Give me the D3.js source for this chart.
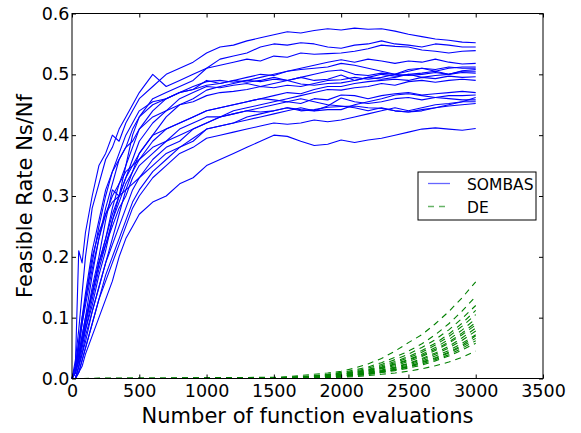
<!DOCTYPE html>
<html>
<head>
<meta charset="utf-8">
<script src="https://cdn.jsdelivr.net/npm/d3@7"></script>
<style>
  body { margin: 0; background: #fff; }
  svg { font-family: "DejaVu Sans", sans-serif; }
</style>
</head>
<body>
<div id="chart"></div>
<script>
// Feasible rate vs evaluations, SOMBAS runs against DE runs

const xTicks = [0, 500, 1000, 1500, 2000, 2500, 3000, 3500];
const yTicks = [0.0, 0.1, 0.2, 0.3, 0.4, 0.5, 0.6];
const seriesNames = ["SOMBAS", "DE"];

// evaluation counts shared by the SOMBAS runs
const sombasEvals = [0, 25, 50, 75, 100, 150, 200, 250, 300, 350, 400, 450, 500,
    600, 700, 800, 900, 1000, 1100, 1200, 1300, 1400, 1500, 1600, 1700, 1800, 1900,
    2000, 2100, 2200, 2300, 2400, 2500, 2600, 2700, 2800, 2900, 3000];

const sombasRuns = [
    [0, .02, .21, .19, .24, .30, .35, .37, .40, .39, .42, .44, .46, .48, .50, .51, .52, .535, .545, .548, .555, .56, .565, .57, .568, .572, .575, .573, .576, .574, .575, .571, .566, .562, .558, .556, .553, .552],
    [0, .03, .08, .14, .20, .28, .32, .36, .38, .41, .43, .45, .47, .50, .48, .49, .50, .51, .525, .53, .535, .545, .55, .548, .552, .55, .545, .543, .548, .55, .555, .55, .548, .545, .55, .548, .545, .545],
    [0, .01, .04, .07, .10, .17, .23, .28, .32, .36, .38, .41, .43, .46, .47, .48, .49, .51, .515, .52, .525, .522, .53, .528, .535, .533, .534, .535, .538, .542, .548, .546, .545, .54, .538, .535, .538, .539],
    [0, .02, .05, .09, .13, .19, .25, .30, .34, .37, .40, .42, .44, .455, .46, .47, .475, .49, .485, .49, .495, .50, .498, .505, .51, .515, .52, .524, .52, .525, .522, .518, .522, .52, .525, .52, .517, .518],
    [0, .01, .03, .06, .09, .15, .20, .26, .31, .30, .35, .40, .43, .45, .46, .47, .48, .488, .49, .487, .49, .495, .50, .505, .508, .51, .512, .518, .515, .51, .505, .50, .508, .51, .505, .51, .512, .512],
    [0, .01, .04, .07, .10, .14, .19, .23, .28, .32, .35, .38, .41, .44, .46, .47, .475, .482, .485, .49, .487, .49, .495, .49, .495, .50, .505, .507, .50, .498, .502, .50, .505, .51, .508, .512, .51, .51],
    [0, .00, .02, .05, .08, .12, .17, .21, .26, .30, .33, .36, .39, .42, .44, .46, .47, .48, .478, .482, .485, .48, .485, .49, .495, .49, .492, .499, .49, .495, .492, .495, .50, .502, .505, .50, .506, .508],
    [0, .02, .06, .10, .14, .21, .26, .31, .34, .36, .38, .39, .41, .43, .44, .45, .455, .465, .47, .472, .475, .48, .478, .482, .48, .485, .49, .491, .495, .492, .495, .50, .498, .50, .503, .50, .505, .505],
    [0, .00, .02, .04, .07, .11, .15, .19, .23, .27, .31, .34, .37, .40, .43, .45, .46, .474, .48, .485, .49, .488, .492, .49, .484, .482, .485, .486, .49, .495, .50, .497, .50, .495, .498, .50, .503, .502],
    [0, .01, .03, .06, .08, .13, .18, .22, .26, .29, .32, .34, .36, .39, .41, .42, .43, .44, .445, .45, .455, .46, .465, .47, .468, .475, .48, .48, .485, .488, .49, .492, .49, .495, .493, .497, .495, .496],
    [0, .01, .05, .09, .12, .18, .23, .27, .30, .32, .34, .35, .36, .38, .39, .40, .41, .42, .43, .44, .445, .45, .455, .46, .465, .47, .475, .474, .478, .48, .485, .482, .488, .49, .487, .49, .492, .49],
    [0, .00, .02, .04, .06, .11, .15, .19, .22, .25, .28, .31, .33, .36, .38, .39, .41, .42, .43, .435, .44, .445, .45, .455, .452, .46, .458, .466, .465, .46, .465, .468, .47, .466, .468, .47, .472, .47],
    [0, .01, .03, .06, .09, .14, .19, .22, .25, .28, .30, .33, .35, .37, .39, .41, .42, .43, .43, .435, .44, .438, .44, .445, .442, .44, .448, .461, .455, .452, .455, .46, .462, .458, .462, .465, .465, .466],
    [0, .00, .01, .03, .05, .09, .13, .17, .20, .23, .26, .29, .31, .34, .36, .38, .395, .41, .415, .42, .43, .435, .44, .445, .44, .442, .446, .447, .448, .445, .444, .44, .438, .442, .445, .45, .455, .462],
    [0, .02, .06, .10, .13, .20, .24, .27, .29, .30, .31, .32, .33, .35, .37, .38, .39, .41, .415, .42, .425, .43, .435, .44, .445, .44, .442, .442, .45, .455, .46, .466, .468, .465, .462, .46, .458, .458],
    [0, .00, .01, .03, .05, .09, .13, .16, .19, .22, .25, .28, .30, .33, .35, .37, .38, .395, .40, .405, .41, .415, .42, .418, .42, .425, .422, .425, .43, .435, .44, .445, .44, .445, .45, .452, .455, .455],
    [0, .01, .03, .06, .09, .14, .19, .23, .27, .30, .33, .35, .37, .40, .41, .42, .43, .44, .445, .45, .455, .46, .458, .455, .46, .455, .45, .448, .445, .44, .445, .44, .438, .44, .445, .448, .45, .452],
    [0, .00, .01, .02, .04, .07, .10, .13, .16, .20, .23, .25, .27, .29, .30, .32, .33, .35, .36, .37, .38, .39, .40, .398, .39, .383, .385, .392, .388, .392, .395, .40, .405, .41, .412, .41, .408, .411]
];

// evaluation counts shared by the DE runs
const deEvals = [0, 1500, 1600, 1700, 1800, 1900, 2000, 2100, 2200, 2300, 2400, 2500, 2600, 2700, 2800, 2900, 3000];

const deRuns = [
    [0, .002, .003, .005, .007, .009, .012, .017, .024, .033, .045, .059, .072, .090, .110, .133, .159],
    [0, .001, .002, .003, .005, .007, .010, .014, .019, .026, .035, .045, .057, .072, .090, .111, .135],
    [0, .001, .002, .003, .004, .006, .009, .012, .017, .023, .031, .040, .051, .064, .080, .099, .120],
    [0, .000, .001, .002, .004, .006, .008, .011, .015, .021, .028, .036, .046, .058, .073, .091, .112],
    [0, .000, .001, .002, .003, .005, .007, .010, .014, .019, .026, .034, .043, .055, .069, .086, .105],
    [0, .000, .001, .002, .003, .005, .007, .010, .013, .018, .024, .031, .040, .051, .064, .080, .098],
    [0, .000, .001, .001, .002, .004, .006, .009, .012, .017, .023, .030, .038, .048, .060, .075, .092],
    [0, .000, .001, .001, .002, .004, .006, .008, .011, .016, .021, .028, .036, .046, .058, .072, .088],
    [0, .000, .000, .001, .002, .003, .005, .007, .010, .014, .019, .025, .033, .042, .053, .067, .083],
    [0, .000, .000, .001, .002, .003, .005, .007, .010, .013, .018, .024, .031, .040, .050, .063, .078],
    [0, .000, .000, .001, .002, .003, .004, .006, .009, .012, .017, .022, .029, .037, .046, .058, .072],
    [0, .000, .000, .001, .001, .002, .004, .006, .008, .011, .015, .020, .027, .034, .043, .055, .070],
    [0, .000, .000, .001, .001, .002, .004, .006, .008, .011, .015, .020, .026, .033, .042, .053, .066],
    [0, .000, .000, .001, .001, .002, .003, .005, .007, .010, .014, .019, .024, .031, .039, .050, .062],
    [0, .000, .000, .000, .001, .002, .003, .005, .007, .010, .013, .017, .022, .029, .037, .047, .058],
    [0, .000, .000, .000, .001, .001, .002, .003, .005, .007, .009, .012, .016, .021, .027, .035, .045]
];

const width = 581, height = 433;
const plot = {left: 72, right: 543, top: 13.5, bottom: 378.5};

const svg = d3.select("#chart").append("svg")
    .attr("width", width)
    .attr("height", height);

const x = d3.scaleLinear().domain([0, 3500]).range([plot.left, plot.right]);
const y = d3.scaleLinear().domain([0, 0.6]).range([plot.bottom, plot.top]);

// lines first, frame drawn over them like matplotlib spines
const sombasLine = d3.line()
    .x((d, i) => x(sombasEvals[i]))
    .y(d => y(d));
const deLine = d3.line()
    .x((d, i) => x(deEvals[i]))
    .y(d => y(d));

svg.append("g").selectAll("path")
    .data(sombasRuns)
    .enter().append("path")
    .attr("d", sombasLine)
    .attr("fill", "none")
    .attr("stroke", "#0000ff")
    .attr("stroke-width", 1.1)
    .attr("stroke-linejoin", "round");

svg.append("g").selectAll("path")
    .data(deRuns)
    .enter().append("path")
    .attr("d", deLine)
    .attr("fill", "none")
    .attr("stroke", "#008000")
    .attr("stroke-width", 1.1)
    .attr("stroke-dasharray", "6,5");

// axes, ticks pointing inward on all four sides
const tickFont = 17.5;

const xAxis = svg.append("g")
    .attr("transform", `translate(0,${plot.bottom})`)
    .call(d3.axisBottom(x).tickValues(xTicks).tickFormat(d3.format("d"))
        .tickSizeInner(-4).tickSizeOuter(0).tickPadding(6.5));
xAxis.select(".domain").remove();

const yAxis = svg.append("g")
    .attr("transform", `translate(${plot.left},0)`)
    .call(d3.axisLeft(y).tickValues(yTicks).tickFormat(d3.format(".1f"))
        .tickSizeInner(-4).tickSizeOuter(0).tickPadding(2.5));
yAxis.select(".domain").remove();

const xTop = svg.append("g")
    .attr("transform", `translate(0,${plot.top})`)
    .call(d3.axisTop(x).tickValues(xTicks).tickFormat("").tickSizeInner(-4).tickSizeOuter(0));
xTop.select(".domain").remove();

const yRight = svg.append("g")
    .attr("transform", `translate(${plot.right},0)`)
    .call(d3.axisRight(y).tickValues(yTicks).tickFormat("").tickSizeInner(-4).tickSizeOuter(0));
yRight.select(".domain").remove();

svg.selectAll(".tick line").attr("stroke", "#000").attr("stroke-width", 1);
svg.selectAll(".tick text")
    .attr("fill", "#000")
    .style("font-size", tickFont + "px")
    .style("font-family", "DejaVu Sans");

svg.append("rect")
    .attr("x", plot.left)
    .attr("y", plot.top)
    .attr("width", plot.right - plot.left)
    .attr("height", plot.bottom - plot.top)
    .attr("fill", "none")
    .attr("stroke", "#000")
    .attr("stroke-width", 1);

// axis titles
svg.append("text")
    .attr("x", (plot.left + plot.right) / 2)
    .attr("y", 423)
    .attr("text-anchor", "middle")
    .style("font-size", "21px")
    .text("Number of function evaluations");

svg.append("text")
    .attr("transform", `translate(32,${(plot.top + plot.bottom) / 2}) rotate(-90)`)
    .attr("text-anchor", "middle")
    .style("font-size", "21px")
    .text("Feasible Rate Ns/Nf");

// legend
const legend = svg.append("g").attr("transform", "translate(418,172)");
legend.append("rect")
    .attr("width", 118)
    .attr("height", 48)
    .attr("fill", "#fff")
    .attr("stroke", "#000")
    .attr("stroke-width", 1);

const legendColors = ["#0000ff", "#008000"];
const legendDash = [null, "6,5"];
seriesNames.forEach(function(name, i) {
    const ly = 11.5 + i * 23;
    legend.append("line")
        .attr("x1", 10).attr("x2", 32)
        .attr("y1", ly).attr("y2", ly)
        .attr("stroke", legendColors[i])
        .attr("stroke-opacity", 0.6)
        .attr("stroke-width", 1.3)
        .attr("stroke-dasharray", legendDash[i]);
    legend.append("text")
        .attr("x", 49)
        .attr("y", ly + 6)
        .style("font-size", "15.5px")
        .text(name);
});
</script>
</body>
</html>
